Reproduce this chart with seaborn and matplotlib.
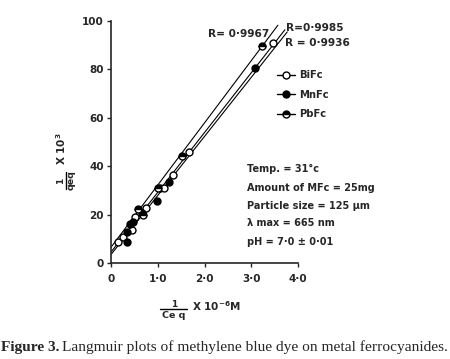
import numpy as np
import matplotlib
matplotlib.use("Agg")
import matplotlib.pyplot as plt
from matplotlib.lines import Line2D
import seaborn as sns

# data (1/Ceq x 1e-6 M, 1/qeq x 1e3)
bi_x = [0.16, 0.25, 0.44, 0.51, 0.74, 1.05, 1.14, 1.33, 1.67, 3.47]
bi_y = [8.8, 10.6, 13.8, 19.0, 22.6, 31.0, 31.0, 36.4, 46.0, 91.0]
mn_x = [0.34, 0.35, 0.41, 0.47, 0.66, 0.99, 1.23, 3.08]
mn_y = [12.8, 8.5, 16.0, 17.0, 20.5, 25.7, 33.6, 80.5]
pb_x = [0.58, 0.69, 1.01, 1.51, 3.23]
pb_y = [22.5, 19.8, 31.0, 44.2, 89.5]

# fitted lines: intercept, slope, end of line
fit_names = ["BiFc", "MnFc", "PbFc"]
fit_b = [4.5, 3.5, 6.5]
fit_m = [24.7, 24.4, 25.7]
fit_end = [3.72, 3.77, 3.57]
r_labels = ["R=0·9985", "R = 0·9936", "R= 0·9967"]

xticks = [0, 1, 2, 3, 4]
xtick_labels = ["0", "1·0", "2·0", "3·0", "4·0"]
yticks = [0, 20, 40, 60, 80, 100]

sns.set_style("ticks")
plt.rcParams["font.family"] = ["DejaVu Sans"]
plt.rcParams["font.weight"] = "bold"
plt.rcParams["mathtext.default"] = "bf"

W, H = 450, 359
fig = plt.figure(figsize=(4.5, 3.59), dpi=100)
ax = fig.add_axes([111 / W, 1 - 263 / H, 187 / W, 242 / H])

def fx(px):
    return px / W

def fy(py):
    return 1 - py / H

for b, m, e in zip(fit_b, fit_m, fit_end):
    xs = np.array([0.0, e])
    sns.lineplot(x=xs, y=b + m * xs, ax=ax, color="black", lw=0.8)

ms = 5
sns.lineplot(x=bi_x, y=bi_y, ax=ax, linestyle="", marker="o", ms=ms,
             mfc="white", mec="black", mew=1.0, sort=False, estimator=None)
sns.lineplot(x=mn_x, y=mn_y, ax=ax, linestyle="", marker="o", ms=ms,
             mfc="black", mec="black", mew=1.0, sort=False, estimator=None)
sns.lineplot(x=pb_x, y=pb_y, ax=ax, linestyle="", marker="o", ms=ms,
             fillstyle="top", mfc="black", markerfacecoloralt="white",
             mec="black", mew=1.0, sort=False, estimator=None)

ax.set_xlim(0, 4.0)
ax.set_ylim(0, 100)
ax.set_xticks(xticks)
ax.set_xticklabels(xtick_labels)
ax.set_yticks(yticks)
ax.tick_params(axis="x", labelsize=7.5, length=3, width=1, pad=5)
ax.tick_params(axis="y", labelsize=7.5, length=3, width=1, pad=2)
for lab in ax.get_xticklabels() + ax.get_yticklabels():
    lab.set_fontweight("bold")
for s in ["left", "bottom"]:
    ax.spines[s].set_linewidth(1.2)
sns.despine(ax=ax)

# R values
ax.text(2.07, 94.5, r_labels[2], fontsize=7.6, fontweight="bold", ha="left", va="center")
ax.text(3.75, 97, r_labels[0], fontsize=7.6, fontweight="bold", ha="left", va="center")
ax.text(3.72, 91, r_labels[1], fontsize=7.6, fontweight="bold", ha="left", va="center")

# legend
handles = [
    Line2D([], [], color="black", lw=1, marker="o", ms=ms, mfc="white", mec="black"),
    Line2D([], [], color="black", lw=1, marker="o", ms=ms, mfc="black", mec="black"),
    Line2D([], [], color="black", lw=1, marker="o", ms=ms, fillstyle="top",
           mfc="black", markerfacecoloralt="white", mec="black"),
]
leg = ax.legend(handles, fit_names, loc="upper left",
                bbox_to_anchor=(fx(268), fy(61)), bbox_transform=fig.transFigure,
                frameon=False, fontsize=7.2, handlelength=1.8,
                handletextpad=0.45, labelspacing=0.95)
for t in leg.get_texts():
    t.set_fontweight("bold")

# experimental conditions
cond = ["Temp. = 31°c", "Amount of MFc = 25mg", "Particle size = 125 µm",
        "λ max = 665 nm", "pH = 7·0 ± 0·01"]
cond_y = [169, 188, 206, 223, 242]
for t, y in zip(cond, cond_y):
    fig.text(fx(247), fy(y), t, fontsize=7, fontweight="bold",
             ha="left", va="center")

# x axis label: 1/Ceq X 10^-6 M
fig.text(fx(174), fy(304.5), "1", fontsize=6.5, fontweight="bold", ha="center", va="center")
fig.add_artist(Line2D([fx(160), fx(187)], [fy(309), fy(309)], color="black", lw=1))
fig.text(fx(173.5), fy(315), "Ce q", fontsize=6.8, fontweight="bold", ha="center", va="center")
fig.text(fx(192), fy(306), r"X 10$^{-6}$M", fontsize=7.5, fontweight="bold",
         ha="left", va="center")

# y axis label: 1/qeq X 10^3
fig.text(fx(61), fy(181), "1", fontsize=6.5, fontweight="bold", ha="center",
         va="center", rotation=90)
fig.add_artist(Line2D([fx(65.5), fx(65.5)], [fy(172), fy(189)], color="black", lw=1))
fig.text(fx(71), fy(180.5), "qeq", fontsize=6.8, fontweight="bold",
         ha="center", va="center", rotation=90)
fig.text(fx(61), fy(149), r"X 10$^{3}$", fontsize=7.5, fontweight="bold",
         ha="center", va="center", rotation=90)

# caption
fs_cap = 11.1
t1 = fig.text(fx(1), fy(347), "Figure 3.", fontsize=fs_cap, fontweight="bold",
              family=["Liberation Serif"], ha="left", va="center")
fig.canvas.draw()
bb = t1.get_window_extent()
fig.text(fx(bb.x1 + 3), fy(347), "Langmuir plots of methylene blue dye on metal ferrocyanides.",
         fontsize=fs_cap, fontweight="normal", family=["Liberation Serif"],
         ha="left", va="center")

fig.savefig("out.png", dpi=100)
